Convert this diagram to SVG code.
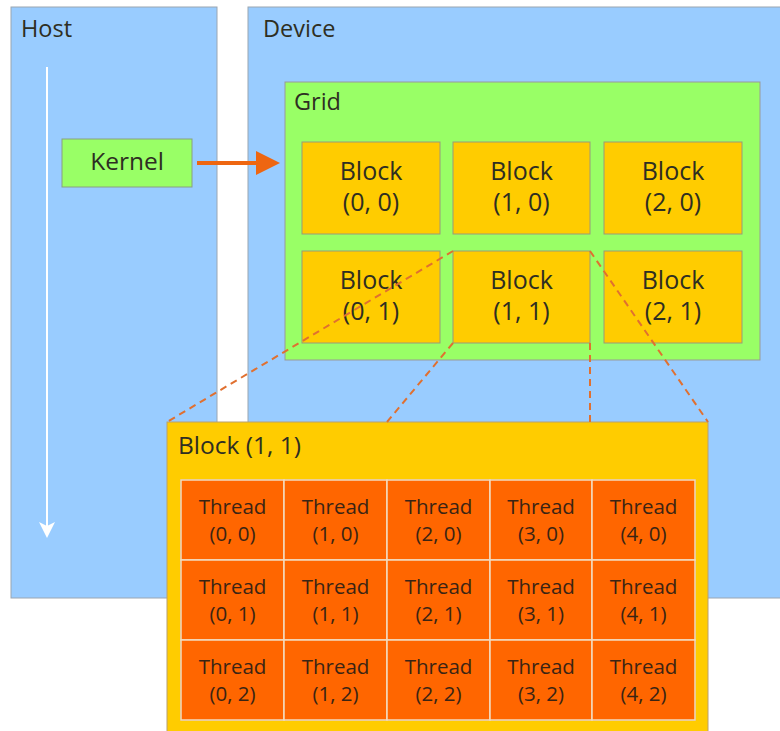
<svg xmlns="http://www.w3.org/2000/svg" width="780" height="731" viewBox="0 0 780 731">
<defs>
<style>
.pane{fill:#99CCFF;stroke:#9aa6b2;stroke-width:1}
.grid{fill:#99FF66;stroke:#999999;stroke-width:1}
.blk{fill:#FFCC00;stroke:#9a9a7a;stroke-width:1}
.big{fill:#FFCC00;stroke:#b8a070;stroke-width:1}
.thr{fill:#FF6600;stroke:#f2dcc0;stroke-width:1.5}
.t{font-family:"Open Sans","Noto Sans","Liberation Sans",sans-serif;fill:#2e2e22}
.lbl{font-size:23.5px}
.bt{font-size:25px;text-anchor:middle}
.tt{font-size:20.5px;text-anchor:middle;fill:#3a2414}
.dash{stroke:#E07030;stroke-width:2;stroke-dasharray:7,5;fill:none}
</style>
<marker id="ah" markerWidth="6" markerHeight="6" refX="5" refY="3" orient="auto" markerUnits="strokeWidth"><path d="M0,0 L6,3 L0,6 Z" fill="#EE6611"/></marker>
<marker id="wh" markerWidth="8" markerHeight="8" refX="7" refY="4" orient="auto" markerUnits="strokeWidth"><path d="M0,0 L8,4 L0,8 L2,4 Z" fill="#ffffff"/></marker>
</defs>
<g id="host">
<rect class="pane" x="11" y="7" width="206" height="591"/>
<text class="t lbl" x="21" y="37">Host</text>
</g>
<g id="device">
<rect class="pane" x="248" y="7" width="540" height="591"/>
<text class="t lbl" x="263" y="37">Device</text>
</g>
<g id="kernel">
<rect x="62" y="139" width="130" height="48" fill="#99FF66" stroke="#8aa080" stroke-width="1"/>
<text class="t" x="127" y="170" font-size="24.5" text-anchor="middle">Kernel</text>
</g>
<g id="grid">
<rect class="grid" x="285" y="82" width="475" height="278"/>
<text class="t lbl" x="294" y="110">Grid</text>
</g>
<g id="block-0-0"><rect class="blk" x="302" y="142" width="138" height="92"/><text class="t bt" x="371" y="180">Block</text><text class="t bt" x="371" y="211">(0, 0)</text></g>
<g id="block-1-0"><rect class="blk" x="453" y="142" width="137" height="92"/><text class="t bt" x="521.5" y="180">Block</text><text class="t bt" x="521.5" y="211">(1, 0)</text></g>
<g id="block-2-0"><rect class="blk" x="604" y="142" width="138" height="92"/><text class="t bt" x="673" y="180">Block</text><text class="t bt" x="673" y="211">(2, 0)</text></g>
<g id="block-0-1"><rect class="blk" x="302" y="251" width="138" height="92"/><text class="t bt" x="371" y="289">Block</text><text class="t bt" x="371" y="320">(0, 1)</text></g>
<g id="block-1-1"><rect class="blk" x="453" y="251" width="137" height="92"/><text class="t bt" x="521.5" y="289">Block</text><text class="t bt" x="521.5" y="320">(1, 1)</text></g>
<g id="block-2-1"><rect class="blk" x="604" y="251" width="138" height="92"/><text class="t bt" x="673" y="289">Block</text><text class="t bt" x="673" y="320">(2, 1)</text></g>
<g id="block-detail">
<rect class="big" x="167" y="422" width="541" height="320"/>
<text class="t" x="178" y="454" font-size="24.5">Block (1, 1)</text>
<rect x="181" y="480" width="514" height="240" fill="#FF6600" stroke="#b08050" stroke-width="1"/>
</g>
<g id="threads">
<g id="thread-0-0"><rect class="thr" x="181" y="480" width="103" height="80"/><text class="t tt" x="232.5" y="514">Thread</text><text class="t tt" x="232.5" y="541">(0, 0)</text></g>
<g id="thread-1-0"><rect class="thr" x="284" y="480" width="103" height="80"/><text class="t tt" x="335.5" y="514">Thread</text><text class="t tt" x="335.5" y="541">(1, 0)</text></g>
<g id="thread-2-0"><rect class="thr" x="387" y="480" width="103" height="80"/><text class="t tt" x="438.5" y="514">Thread</text><text class="t tt" x="438.5" y="541">(2, 0)</text></g>
<g id="thread-3-0"><rect class="thr" x="490" y="480" width="102" height="80"/><text class="t tt" x="541" y="514">Thread</text><text class="t tt" x="541" y="541">(3, 0)</text></g>
<g id="thread-4-0"><rect class="thr" x="592" y="480" width="103" height="80"/><text class="t tt" x="643.5" y="514">Thread</text><text class="t tt" x="643.5" y="541">(4, 0)</text></g>
<g id="thread-0-1"><rect class="thr" x="181" y="560" width="103" height="80"/><text class="t tt" x="232.5" y="594">Thread</text><text class="t tt" x="232.5" y="621">(0, 1)</text></g>
<g id="thread-1-1"><rect class="thr" x="284" y="560" width="103" height="80"/><text class="t tt" x="335.5" y="594">Thread</text><text class="t tt" x="335.5" y="621">(1, 1)</text></g>
<g id="thread-2-1"><rect class="thr" x="387" y="560" width="103" height="80"/><text class="t tt" x="438.5" y="594">Thread</text><text class="t tt" x="438.5" y="621">(2, 1)</text></g>
<g id="thread-3-1"><rect class="thr" x="490" y="560" width="102" height="80"/><text class="t tt" x="541" y="594">Thread</text><text class="t tt" x="541" y="621">(3, 1)</text></g>
<g id="thread-4-1"><rect class="thr" x="592" y="560" width="103" height="80"/><text class="t tt" x="643.5" y="594">Thread</text><text class="t tt" x="643.5" y="621">(4, 1)</text></g>
<g id="thread-0-2"><rect class="thr" x="181" y="640" width="103" height="80"/><text class="t tt" x="232.5" y="674">Thread</text><text class="t tt" x="232.5" y="701">(0, 2)</text></g>
<g id="thread-1-2"><rect class="thr" x="284" y="640" width="103" height="80"/><text class="t tt" x="335.5" y="674">Thread</text><text class="t tt" x="335.5" y="701">(1, 2)</text></g>
<g id="thread-2-2"><rect class="thr" x="387" y="640" width="103" height="80"/><text class="t tt" x="438.5" y="674">Thread</text><text class="t tt" x="438.5" y="701">(2, 2)</text></g>
<g id="thread-3-2"><rect class="thr" x="490" y="640" width="102" height="80"/><text class="t tt" x="541" y="674">Thread</text><text class="t tt" x="541" y="701">(3, 2)</text></g>
<g id="thread-4-2"><rect class="thr" x="592" y="640" width="103" height="80"/><text class="t tt" x="643.5" y="674">Thread</text><text class="t tt" x="643.5" y="701">(4, 2)</text></g>
</g>
<g id="connectors">
<line x1="47" y1="67" x2="47" y2="536" stroke="#ffffff" stroke-width="2" marker-end="url(#wh)"/>
<line x1="197" y1="163" x2="276" y2="163" stroke="#EE6611" stroke-width="4" marker-end="url(#ah)"/>
<line class="dash" x1="453" y1="251" x2="167" y2="422"/>
<line class="dash" x1="590" y1="251" x2="708" y2="422"/>
<line class="dash" x1="453" y1="343" x2="387" y2="422"/>
<line class="dash" x1="590" y1="343" x2="590" y2="422"/>
</g>
</svg>
